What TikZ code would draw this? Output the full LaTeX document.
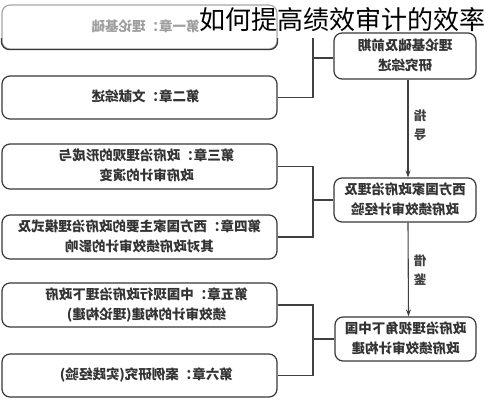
\documentclass[tikz,border=0pt]{standalone}
\usepackage{fontspec}
\usepackage{graphicx}
\newfontfamily\cjk{Noto Sans CJK SC}
\usetikzlibrary{arrows.meta}
\newcommand\mir[1]{\scalebox{-1}[1]{\begin{tabular}{@{}c@{}}#1\end{tabular}}}
\newcommand\rsh[1]{\hspace*{#1}}
\tikzset{
  boxline/.style={draw=black!78, line width=1.2pt, rounded corners=8pt},
  leftbox/.style={boxline, minimum width=275pt, minimum height=44pt, inner sep=0pt,
     font=\cjk\bfseries\fontsize{13.5}{20}\selectfont, text=black!80},
  rightbox/.style={boxline, minimum width=142pt, minimum height=45pt, inner sep=0pt,
     font=\cjk\bfseries\fontsize{13.5}{20}\selectfont, text=black!80},
  conn/.style={draw=black!75, line width=1.1pt},
  arr/.style={conn, -{Stealth[length=7pt,width=5pt]}},
  lbl/.style={font=\cjk\bfseries\fontsize{12.5}{19}\selectfont, text=black!75, inner sep=0pt}
}
\begin{document}
\begin{tikzpicture}[x=1pt,y=-1pt]
\useasboundingbox (0,0) rectangle (484,400);
% left column
\node[leftbox, draw=black!35, text=black!38] (b1) at (139.5,27) {\rsh{12pt}\mir{第一章：理论基础}};
\begin{scope}
  \clip (0,38) rectangle (290,60);
  \draw[boxline] (b1.north west) rectangle (b1.south east);
\end{scope}
\node[leftbox, minimum height=43pt] (b2) at (139.5,97.5) {\rsh{12pt}\mir{第二章：文献综述}};
\node[leftbox, minimum height=45pt] (b3) at (139.5,166.5) {\rsh{14pt}\mir{第三章：政府治理观的形成与\\政府审计的演变}};
\node[leftbox] (b4) at (139.5,237) {\mir{第四章：西方国家主要的政府治理模式及\\其对政府绩效审计的影响}};
\node[leftbox] (b5) at (139.5,305) {\rsh{14pt}\mir{第五章：中国现行政府治理下政府\\绩效审计的构建(理论构建)}};
\node[leftbox, minimum height=43pt] (b6) at (139.5,375.5) {\rsh{14pt}\mir{第六章：案例研究(实践经验)}};
% right column
\node[rightbox, minimum height=46pt] (r1) at (405,56) {\mir{理论基础及前期\\研究综述}};
\node[rightbox, minimum height=44pt] (r2) at (405,200) {\mir{西方国家政府治理及\\政府绩效审计经验}};
\node[rightbox, minimum width=141pt, minimum height=44pt] (r3) at (405.5,339) {\mir{政府治理视角下中国\\政府绩效审计构建}};
% junctions
\coordinate (t1) at (313,38);
\coordinate (j1) at (313,58);
\coordinate (j2) at (313,200);
\coordinate (j3) at (313,339);
% brackets
\draw[conn] (b2.east) -| (t1);
\draw[conn] (j1) -- (j1 -| r1.west);
\draw[conn] (b3.east) -| (j2) |- (b4.east);
\draw[conn] (j2) -- (r2.west);
\draw[conn] (b5.east) -| (j3) |- (b6.east);
\draw[conn] (j3) -- (r3.west);
% arrows
\draw[arr] ([xshift=3pt]r1.south) -- ([xshift=3pt]r2.north);
\draw[arr] ([xshift=3pt]r2.south) -- ([xshift=3pt]r3.north);
\node[lbl] (l1) at (420,126) {\mir{指\\导}};
\node[lbl] (l2) at (420,271) {\mir{借\\鉴}};
% title
\node[font=\cjk\fontsize{26}{30}\selectfont, inner sep=0pt, anchor=west] (title) at (199,20) {如何提高绩效审计的效率};
\end{tikzpicture}
\end{document}
